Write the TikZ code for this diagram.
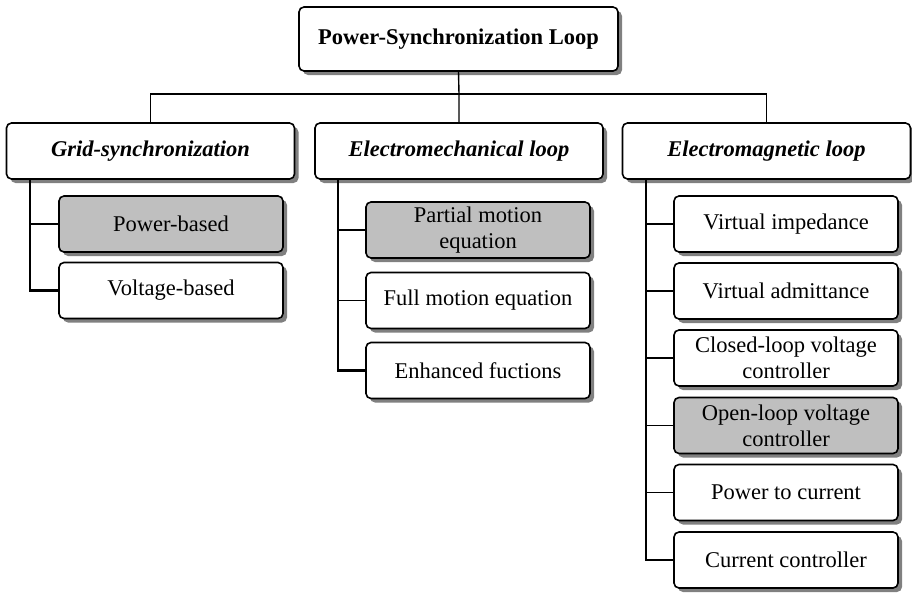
\documentclass[tikz,border=0pt]{standalone}
\usepackage{fontspec}
\setmainfont{Liberation Serif}
\usetikzlibrary{shadows}
\begin{document}
\begin{tikzpicture}[x=1pt,y=-1pt,
  box/.style={draw=black, line width=1.6pt, rounded corners=5pt, fill=white,
    align=center, inner sep=0pt,
    font=\fontsize{22.5}{26}\selectfont,
    drop shadow={shadow xshift=4pt, shadow yshift=-4pt, fill=black!50, opacity=1}},
  rootbox/.style={box, minimum width=319pt, minimum height=64pt, font=\fontsize{22.5}{26}\selectfont\bfseries},
  catbox/.style={box, minimum width=288pt, minimum height=56pt, font=\fontsize{22.5}{26}\selectfont\bfseries\itshape},
  leaf/.style={box, minimum width=224pt, minimum height=56pt},
  hilite/.style={fill=black!25},
  link/.style={line width=1.4pt},
  bus/.style={line width=2.8pt},
  branch/.style={line width=1.8pt}]
\useasboundingbox (0,0) rectangle (912,592);

% root and categories
\node[rootbox] (root) at (458.5,39) {Power-Synchronization Loop};
\node[catbox] (gs)  at (150.5,151) {Grid-synchronization};
\node[catbox] (emc) at (459,151) {Electromechanical loop};
\node[catbox] (emg) at (766.5,151) {Electromagnetic loop};

\coordinate (hub) at (459,94);
\draw[link] (root.south) -- (hub) -- (emc.north);
\draw[link] (gs.north) |- (hub) -| (emg.north);

% grid-synchronization leaves
\node[leaf,hilite] (pb) at (171,224) {Power-based};
\node[leaf] (vb) at (171,290.5) {Voltage-based};
\coordinate (gsb) at (30,179);
\draw[bus] (gsb) |- (vb.west);
\draw[branch] (gsb |- pb.west) -- (pb.west);

% electromechanical leaves
\node[leaf,hilite] (pm) at (478,230) {Partial motion\\equation};
\node[leaf] (fm) at (478,300.5) {Full motion equation};
\node[leaf] (ef) at (478,370.5) {Enhanced fuctions};
\coordinate (emcb) at (338,179);
\draw[bus] (emcb) |- (ef.west);
\draw[branch] (emcb |- pm.west) -- (pm.west);
\draw[branch] (emcb |- fm.west) -- (fm.west);

% electromagnetic leaves
\node[leaf] (vi) at (786,224) {Virtual impedance};
\node[leaf] (va) at (786,291) {Virtual admittance};
\node[leaf] (cl) at (786,358) {Closed-loop voltage\\controller};
\node[leaf,hilite] (ol) at (786,425.5) {Open-loop voltage\\controller};
\node[leaf] (pc) at (786,492.5) {Power to current};
\node[leaf] (cc) at (786,560) {Current controller};
\coordinate (emgb) at (646,179);
\draw[bus] (emgb) |- (cc.west);
\foreach \n in {vi,va,cl,ol,pc}
  \draw[branch] (emgb |- \n.west) -- (\n.west);
\end{tikzpicture}
\end{document}
